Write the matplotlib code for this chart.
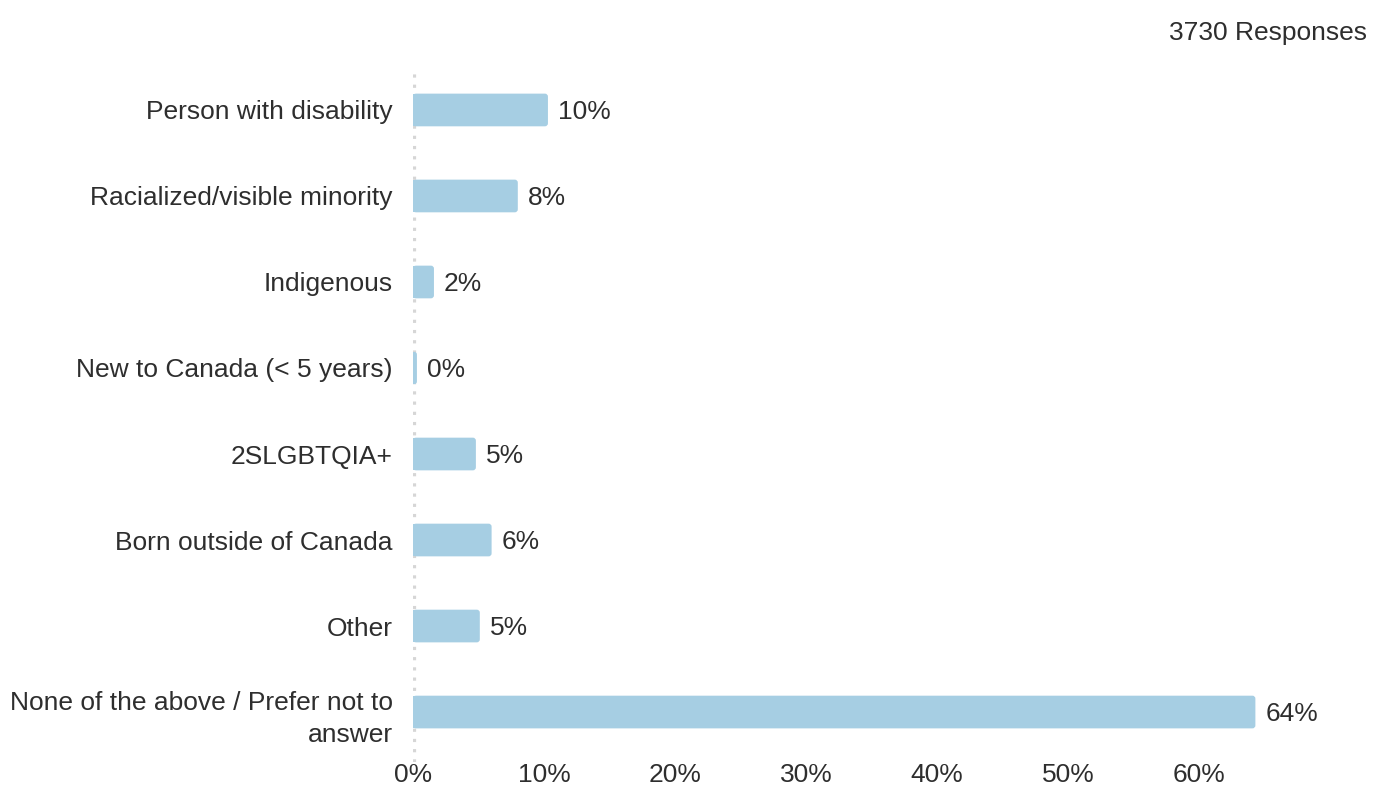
import matplotlib.pyplot as plt
from matplotlib.patches import FancyBboxPatch, Rectangle

plt.rcParams['font.family'] = ['Liberation Sans', 'DejaVu Sans']

categories = [
    "Person with disability",
    "Racialized/visible minority",
    "Indigenous",
    "New to Canada (< 5 years)",
    "2SLGBTQIA+",
    "Born outside of Canada",
    "Other",
    "None of the above / Prefer not to\nanswer",
]
percent = [10.3, 8.0, 1.6, 0.3, 4.8, 6.0, 5.1, 64.3]
x_ticks = [0, 10, 20, 30, 40, 50, 60]
n_responses = 3730

bar_color = '#a6cee3'
text_color = '#2e2e2e'
font_size = 19

fig = plt.figure(figsize=(13.87, 7.89), dpi=100)
ax = fig.add_axes([0.29776, 0.03422, 0.6423, 0.8809])
ax.set_xlim(0, 68)
ax.set_ylim(7.581, -0.5)

bar_h = 0.38
# bars with rounded right end, square left end
for i, v in enumerate(percent):
    rounded = FancyBboxPatch((0, i - bar_h / 2), v, bar_h,
                             boxstyle="round,pad=0,rounding_size=0.23",
                             mutation_aspect=0.152,
                             facecolor=bar_color, edgecolor='none', zorder=3)
    ax.add_patch(rounded)
    ax.add_patch(Rectangle((0, i - bar_h / 2), v / 2, bar_h,
                           facecolor=bar_color, edgecolor='none', zorder=3))
    ax.text(v + 0.76, i + 0.02, f"{round(v):.0f}%", va='center', ha='left',
            fontsize=font_size, color=text_color)

ax.axvline(0.08, color='#d6d6d6', lw=2.3, linestyle=(0, (1, 2.2)),
           dash_capstyle='butt', zorder=1)

ax.set_yticks(range(len(categories)))
ax.set_yticklabels(categories, fontsize=font_size, color=text_color,
                   linespacing=1.45)
ax.set_xticks(x_ticks)
ax.set_xticklabels([f"{t}%" for t in x_ticks], fontsize=font_size,
                   color=text_color)
ax.tick_params(axis='y', length=0, pad=14.4)
ax.tick_params(axis='x', length=0, pad=1)
for s in ax.spines.values():
    s.set_visible(False)

fig.text(1367 / 1387, 1 - 33 / 789, f"{n_responses} Responses",
         ha='right', va='center', fontsize=font_size, color=text_color)

fig.savefig('out.png', dpi=100)
